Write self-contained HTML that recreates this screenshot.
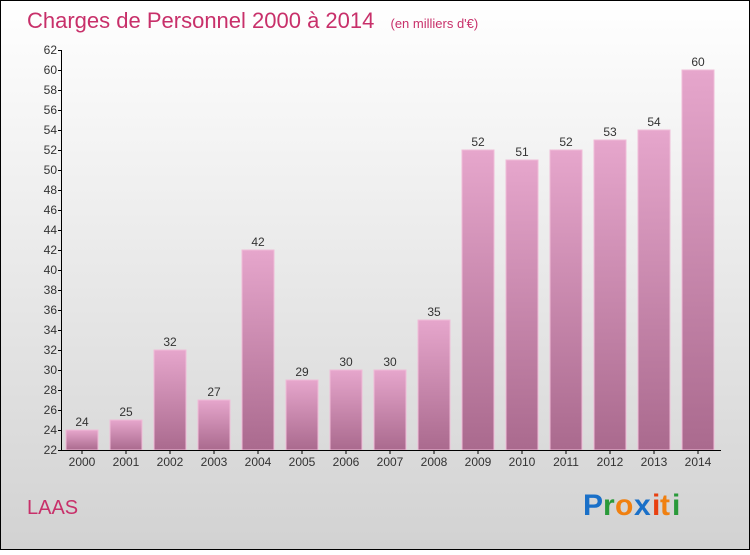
<!DOCTYPE html>
<html><head><meta charset="utf-8"><style>
html,body{margin:0;padding:0}
body{width:750px;height:550px;overflow:hidden;font-family:"Liberation Sans",sans-serif}
</style></head><body>
<svg width="750" height="550" xmlns="http://www.w3.org/2000/svg">
<defs>
<linearGradient id="bg" x1="0" y1="0" x2="0" y2="1"><stop offset="0" stop-color="#ffffff"/><stop offset="1" stop-color="#d2d2d2"/></linearGradient>
<linearGradient id="bar" x1="0" y1="0" x2="0" y2="1"><stop offset="0" stop-color="#e6a6cc"/><stop offset="1" stop-color="#aa6a8e"/></linearGradient>
</defs>
<rect x="0.5" y="0.5" width="749" height="549" fill="url(#bg)" stroke="#000" stroke-width="1"/>
<text x="27" y="28" font-size="22" fill="#c8306a">Charges de Personnel 2000 à 2014 <tspan font-size="13" dx="10">(en milliers d'€)</tspan></text>
<g id="bars"></g>
<g id="axes"></g>
<text x="27" y="514" font-size="20" fill="#c8306a">LAAS</text>
<g font-size="30" font-weight="bold" font-family="'Liberation Sans',sans-serif">
<text x="583" y="515" fill="#1a70c8">P</text><text x="603" y="515" fill="#2a9a3a">r</text><text x="615" y="515" fill="#f08010">o</text><text x="634" y="515" fill="#1a70c8">x</text><text x="652" y="515" fill="#e84010">i</text><text x="660" y="515" fill="#f08010">t</text><text x="672" y="515" fill="#2a9a3a">i</text>
</g>
</svg>
<script>
const years=["2000","2001","2002","2003","2004","2005","2006","2007","2008","2009","2010","2011","2012","2013","2014"];
const values=[24,25,32,27,42,29,30,30,35,52,51,52,53,54,60];
const yTicks=[22,24,26,28,30,32,34,36,38,40,42,44,46,48,50,52,54,56,58,60,62];
const NS="http://www.w3.org/2000/svg";
const y=v=>450-(v-22)*10;
const x=i=>82+i*44;
const bars=document.getElementById('bars'),axes=document.getElementById('axes');
function mk(tag,attrs,parent){const e=document.createElementNS(NS,tag);for(const k in attrs)e.setAttribute(k,attrs[k]);parent.appendChild(e);return e;}
values.forEach((v,i)=>{
 const r=mk('rect',{x:x(i)-16,y:y(v),width:32,height:450-y(v),fill:'url(#bar)',stroke:'#f0bcd8','stroke-width':1},bars);
 
 
 const t=mk('text',{x:x(i),y:y(v)-4,'text-anchor':'middle','font-size':12,fill:'#333'},bars);
 t.textContent=v;
 
 
 const xl=mk('text',{x:x(i),y:466,'text-anchor':'middle','font-size':12,fill:'#333'},axes);
 xl.textContent=years[i];
 
 
 mk('line',{x1:x(i),x2:x(i),y1:450,y2:454,stroke:'#000'},axes);
});
const ya=mk('line',{x1:61.5,x2:61.5,y1:50,y2:450,stroke:'#000'},axes);


const xa=mk('line',{x1:61,x2:721,y1:450.5,y2:450.5,stroke:'#000'},axes);


yTicks.forEach(v=>{
 mk('line',{x1:58,x2:62,y1:y(v)+.5,y2:y(v)+.5,stroke:'#000'},axes);
 const t=mk('text',{x:57,y:y(v)+4,'text-anchor':'end','font-size':12,fill:'#333'},axes);
 t.textContent=v;
 
 
});
</script>
</body></html>
